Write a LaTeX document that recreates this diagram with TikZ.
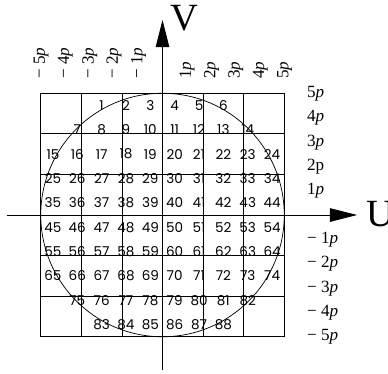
\documentclass[tikz,border=0pt]{standalone}
\usepackage{fontspec}
\setmainfont{Liberation Serif}
\newfontfamily\cellfont{Poppins}
\usetikzlibrary{arrows.meta,positioning}

\begin{document}
\begin{tikzpicture}[x=0.6cm, y=0.6cm,
    axis/.style={line width=0.6pt, -{Triangle[length=19pt,width=9.5pt]}},
    cellnum/.style={inner sep=0pt, font=\cellfont\fontsize{9.5}{10}\selectfont},
    tick/.style={inner sep=0pt, font=\rmfamily\fontsize{12}{13}\selectfont},
    axlabel/.style={inner sep=0pt, font=\rmfamily\fontsize{27}{30}\selectfont}]
  \useasboundingbox (-6.674,-6.489) rectangle (9.261,8.830);

  % grid and circle
  \draw[line width=0.5pt] (-5,-5) grid (5,5);
  \draw[line width=0.5pt] (0,0) circle (5);

  % axes
  \coordinate (vbot) at (0,-6.37);
  \coordinate (vtop) at (0,8.01);
  \coordinate (uleft) at (-6.39,0);
  \coordinate (uright) at (7.99,0);
  \draw[axis] (vbot) -- (vtop);
  \draw[axis] (uleft) -- (uright);
  \node[axlabel] (vlab) at (0.88,8.08) {V};
  \node[axlabel, anchor=west] (ulab) at (8.38,0.02) {U};

  % cell numbers
  \foreach \r/\first/\last/\start in {1/3/8/1, 2/2/9/7, 3/1/10/15, 4/1/10/25,
      5/1/10/35, 6/1/10/45, 7/1/10/55, 8/1/10/65, 9/2/9/75, 10/3/8/83} {
    \foreach \c in {\first,...,\last} {
      \pgfmathtruncatemacro{\n}{\start+\c-\first}
      \node[cellnum] (cell\n) at (\c-5.5, 5.5-\r) {\n};
    }
  }

  % right labels
  \foreach \k/\txt in {5/5\textit{p}, 4/4\textit{p}, 3/3\textit{p}, 2/2p, 1/1\textit{p},
      -1/− 1\textit{p}, -2/− 2\textit{p}, -3/− 3\textit{p}, -4/− 4\textit{p}, -5/− 5\textit{p}}
    \node[tick, anchor=base west] (r\k) at (5.93, \k-0.17) {\txt};

  % top labels
  \foreach \k/\txt in {-5/− 5\textit{p}, -4/− 4\textit{p}, -3/− 3\textit{p}, -2/− 2\textit{p}, -1/− 1\textit{p},
      1/1\textit{p}, 2/2\textit{p}, 3/3\textit{p}, 4/4\textit{p}, 5/5\textit{p}}
    \node[tick, rotate=90, anchor=base west] (t\k) at (\k+0.17, 5.58) {\txt};
\end{tikzpicture}
\end{document}
